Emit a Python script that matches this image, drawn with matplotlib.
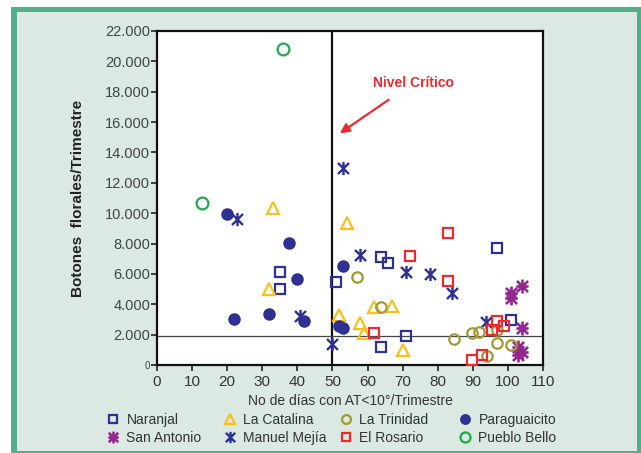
import matplotlib
matplotlib.use("Agg")
import matplotlib.pyplot as plt
from matplotlib.patches import Rectangle
from matplotlib.path import Path
from matplotlib.ticker import FuncFormatter

plt.rcParams['font.family'] = ['Liberation Sans', 'DejaVu Sans']

W, H = 641, 453

# ---- data (dias con AT<10 por trimestre, botones florales por trimestre) ----
naranjal_x = [35.1, 35.1, 50.9, 63.8, 65.9, 97.0, 100.9, 71.0, 63.8]
naranjal_y = [6150, 4980, 5490, 7140, 6740, 7690, 2960, 1930, 1210]

catalina_x = [33.0, 54.1, 31.9, 52.0, 57.9, 59.1, 61.8, 67.0, 70.0]
catalina_y = [10320, 9380, 5000, 3290, 2750, 2090, 3800, 3890, 990]

trinidad_x = [56.9, 63.8, 84.7, 89.7, 91.9, 97.0, 97.0, 100.9, 94.0]
trinidad_y = [5770, 3820, 1690, 2130, 2190, 2300, 1470, 1300, 610]

paraguaicito_x = [19.9, 37.7, 52.9, 39.8, 21.9, 31.9, 41.9, 51.8, 52.9]
paraguaicito_y = [9950, 8060, 6540, 5670, 3010, 3360, 2880, 2590, 2460]

san_antonio_x = [103.9, 100.8, 100.8, 103.9, 103.0, 104.0, 102.8]
san_antonio_y = [5220, 4750, 4400, 2420, 1180, 880, 660]

mejia_x = [52.9, 22.9, 57.9, 71.0, 77.8, 84.0, 40.8, 49.8, 93.8]
mejia_y = [13000, 9600, 7220, 6150, 6000, 4720, 3230, 1380, 2850]

rosario_x = [72.1, 82.8, 82.8, 61.8, 96.8, 95.4, 99.0, 92.7, 89.9]
rosario_y = [7160, 8720, 5550, 2130, 2920, 2300, 2590, 660, 330]

pueblo_bello_x = [36.0, 12.7]
pueblo_bello_y = [20800, 10650]

x_ticks = list(range(0, 111, 10))
y_ticks = list(range(0, 22001, 2000))

critical_days = 50
threshold_buds = 1900

NAVY = '#2E3192'
YELLOW = '#F9C01A'
OLIVE = '#A09A34'
RED = '#EE2A2F'
PURPLE = '#93278F'
GREEN = '#1FAA4C'
BG = '#DCE8E2'
FRAME = '#52AE8D'

# asterisk style markers
star = Path([(-1, -1), (1, 1), (-1, 1), (1, -1), (0, -1.2), (0, 1.2)],
            [Path.MOVETO, Path.LINETO] * 3)
star8 = Path([(-1, -1), (1, 1), (-1, 1), (1, -1), (0, -1.25), (0, 1.25), (-1.1, 0), (1.1, 0)],
             [Path.MOVETO, Path.LINETO] * 4)

series = [
    ('Naranjal', naranjal_x, naranjal_y, dict(marker='s', mfc='none', mec=NAVY, ms=7.5, mew=1.6)),
    ('San Antonio', san_antonio_x, san_antonio_y, dict(marker=star8, mfc='none', mec=PURPLE, ms=10, mew=1.9)),
    ('La Catalina', catalina_x, catalina_y, dict(marker='^', mfc='none', mec=YELLOW, ms=8, mew=1.6)),
    ('Manuel Mejía', mejia_x, mejia_y, dict(marker=star, mfc='none', mec=NAVY, ms=9.5, mew=1.7)),
    ('La Trinidad', trinidad_x, trinidad_y, dict(marker='o', mfc='none', mec=OLIVE, ms=7.5, mew=1.6)),
    ('El Rosario', rosario_x, rosario_y, dict(marker='s', mfc='none', mec=RED, ms=7.5, mew=1.6)),
    ('Paraguaicito', paraguaicito_x, paraguaicito_y, dict(marker='o', mfc=NAVY, mec=NAVY, ms=8, mew=1)),
    ('Pueblo Bello', pueblo_bello_x, pueblo_bello_y, dict(marker='o', mfc='none', mec=GREEN, ms=8.5, mew=1.6)),
]


def main():
    fig = plt.figure(figsize=(W / 100, H / 100), dpi=100, facecolor='white')

    # green frame with light background
    fig.patches.append(Rectangle((11 / W, 0), 630 / W, 446 / H, transform=fig.transFigure,
                                 facecolor=FRAME, edgecolor='none', zorder=-2))
    fig.patches.append(Rectangle((17 / W, 2 / H), 620 / W, 439 / H, transform=fig.transFigure,
                                 facecolor=BG, edgecolor='none', zorder=-1))

    ax = fig.add_axes([157 / W, 88 / H, 386 / W, 334 / H])
    ax.set_facecolor('white')
    ax.set_xlim(0, 110)
    ax.set_ylim(0, 22000)

    ax.axvline(critical_days, color='#111111', lw=1.6, zorder=1)
    ax.axhline(threshold_buds, color='#444444', lw=0.9, zorder=1)

    handles = {}
    for label, xs, ys, style in series:
        line, = ax.plot(xs, ys, linestyle='none', zorder=3, label=label, **style)
        handles[label] = line

    ax.set_xticks(x_ticks)
    ax.set_yticks(y_ticks)
    ax.yaxis.set_major_formatter(FuncFormatter(lambda v, p: '0' if v == 0 else f'{int(v):,}'.replace(',', '.')))
    ax.tick_params(axis='both', direction='out', length=4, width=1.2, colors='#222222')
    ax.tick_params(axis='x', labelsize=11, pad=3, labelcolor='#333333')
    ax.tick_params(axis='y', labelsize=10.5, pad=1, labelcolor='#444444')
    ax.get_yticklabels()[0].set_fontsize(7)
    for s in ax.spines.values():
        s.set_linewidth(1.6)
        s.set_color('#111111')

    ax.set_xlabel('No de días con AT<10°/Trimestre', fontsize=10, color='#333333', labelpad=4)
    ax.set_ylabel('Botones  florales/Trimestre', fontsize=11, fontweight='bold', color='#222222', labelpad=14)

    ax.annotate('Nivel Crítico', xy=(52.1, 15260), xytext=(73, 18580), color=RED,
                fontsize=10, fontweight='bold', ha='center', va='center',
                arrowprops=dict(arrowstyle='-|>', color=RED, lw=1.6, mutation_scale=14,
                                shrinkA=9, shrinkB=0))

    # legend laid out in four fixed columns below the plot
    cols = [(['Naranjal', 'San Antonio'], 107),
            (['La Catalina', 'Manuel Mejía'], 224),
            (['La Trinidad', 'El Rosario'], 340),
            (['Paraguaicito', 'Pueblo Bello'], 459)]
    for names, x0 in cols:
        fig.legend(handles=[handles[n] for n in names], labels=names,
                   loc='upper left', bbox_to_anchor=(x0 / W, 1 - 413 / H),
                   frameon=False, fontsize=10, handlelength=0.9, handletextpad=0.5,
                   borderpad=0, borderaxespad=0, labelspacing=0.3, markerscale=0.85,
                   labelcolor='#333333')

    fig.savefig('out.png', dpi=100, facecolor='white')
    plt.close(fig)


if __name__ == '__main__':
    main()
